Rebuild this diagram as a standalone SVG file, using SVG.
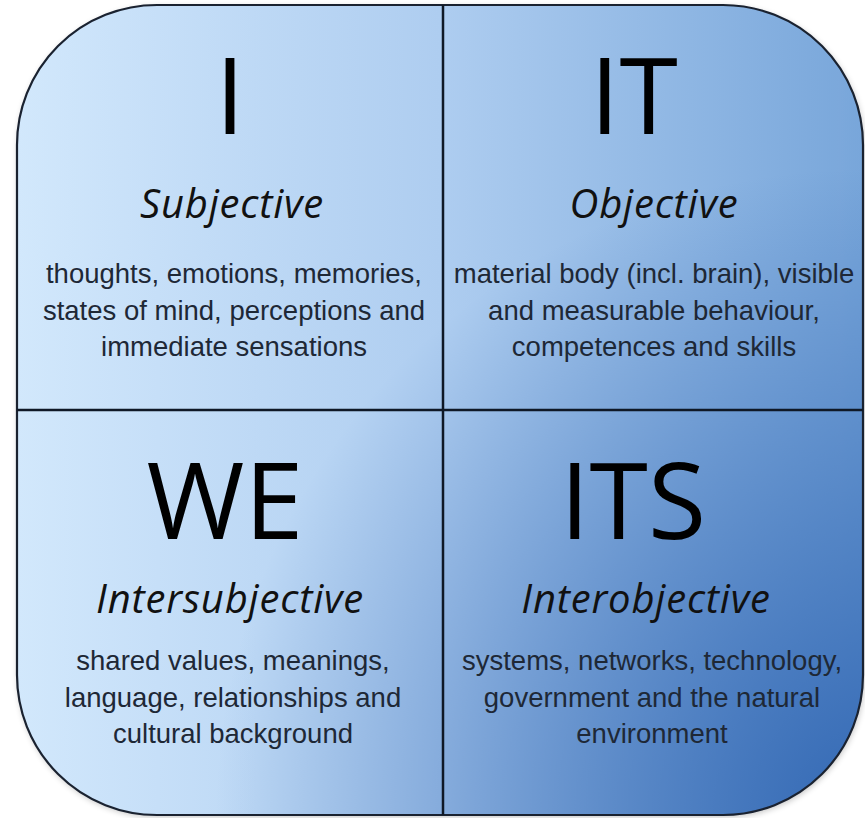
<svg xmlns="http://www.w3.org/2000/svg" width="865" height="818" viewBox="0 0 865 818">
<defs>
<linearGradient id="bg" gradientUnits="userSpaceOnUse" x1="17" y1="0" x2="863" y2="0">
<stop offset="0" stop-color="#d2e8fc"/>
<stop offset="0.5" stop-color="#aecdf0"/>
<stop offset="1" stop-color="#78a6da"/>
</linearGradient>
<radialGradient id="dk" gradientUnits="userSpaceOnUse" cx="865" cy="818" r="650">
<stop offset="0" stop-color="#2c62b0" stop-opacity="0.9"/>
<stop offset="1" stop-color="#2c62b0" stop-opacity="0"/>
</radialGradient>
<filter id="sh" x="-5%" y="-5%" width="110%" height="110%">
<feGaussianBlur in="SourceAlpha" stdDeviation="3"/>
<feOffset dx="1" dy="2"/>
<feComponentTransfer><feFuncA type="linear" slope="0.25"/></feComponentTransfer>
<feMerge><feMergeNode/><feMergeNode in="SourceGraphic"/></feMerge>
</filter>
</defs>
<style>
.big{font-family:"Open Sans","Noto Sans",sans-serif;font-size:106px;fill:#000;text-anchor:middle}
.hd{font-family:"Open Sans","Noto Sans",sans-serif;font-style:italic;font-size:40px;letter-spacing:0.8px;fill:#111;text-anchor:middle}
.bd{font-family:"Liberation Sans",Arial,sans-serif;font-size:27.5px;fill:#1e2836;text-anchor:middle}
.div{stroke:#0f1826;stroke-width:2.5;fill:none}
</style>
<rect x="17" y="5" width="846" height="810" rx="140" ry="140" fill="url(#bg)" filter="url(#sh)"/>
<rect x="17" y="5" width="846" height="810" rx="140" ry="140" fill="url(#dk)" stroke="#1a2230" stroke-width="2.2"/>
<g id="connectors">
<line class="div" x1="443" y1="5" x2="443" y2="815"/>
<line class="div" x1="17" y1="410" x2="863" y2="410"/>
</g>
<g id="q-i">
<text class="big" x="230" y="134">I</text>
<text class="hd" x="232" y="218">Subjective</text>
<text class="bd"><tspan x="234" y="283">thoughts, emotions, memories,</tspan><tspan x="234" y="320">states of mind, perceptions and</tspan><tspan x="234" y="356">immediate sensations</tspan></text>
</g>
<g id="q-it">
<text class="big" x="634" y="134">IT</text>
<text class="hd" x="654" y="218">Objective</text>
<text class="bd"><tspan x="654" y="283">material body (incl. brain), visible</tspan><tspan x="654" y="320">and measurable behaviour,</tspan><tspan x="654" y="356">competences and skills</tspan></text>
</g>
<g id="q-we">
<text class="big" x="225" y="539">WE</text>
<text class="hd" x="230" y="613">Intersubjective</text>
<text class="bd"><tspan x="233" y="670">shared values, meanings,</tspan><tspan x="233" y="707">language, relationships and</tspan><tspan x="233" y="743">cultural background</tspan></text>
</g>
<g id="q-its">
<text class="big" x="633" y="539">ITS</text>
<text class="hd" x="646" y="613">Interobjective</text>
<text class="bd"><tspan x="652" y="670">systems, networks, technology,</tspan><tspan x="652" y="707">government and the natural</tspan><tspan x="652" y="743">environment</tspan></text>
</g>
</svg>
